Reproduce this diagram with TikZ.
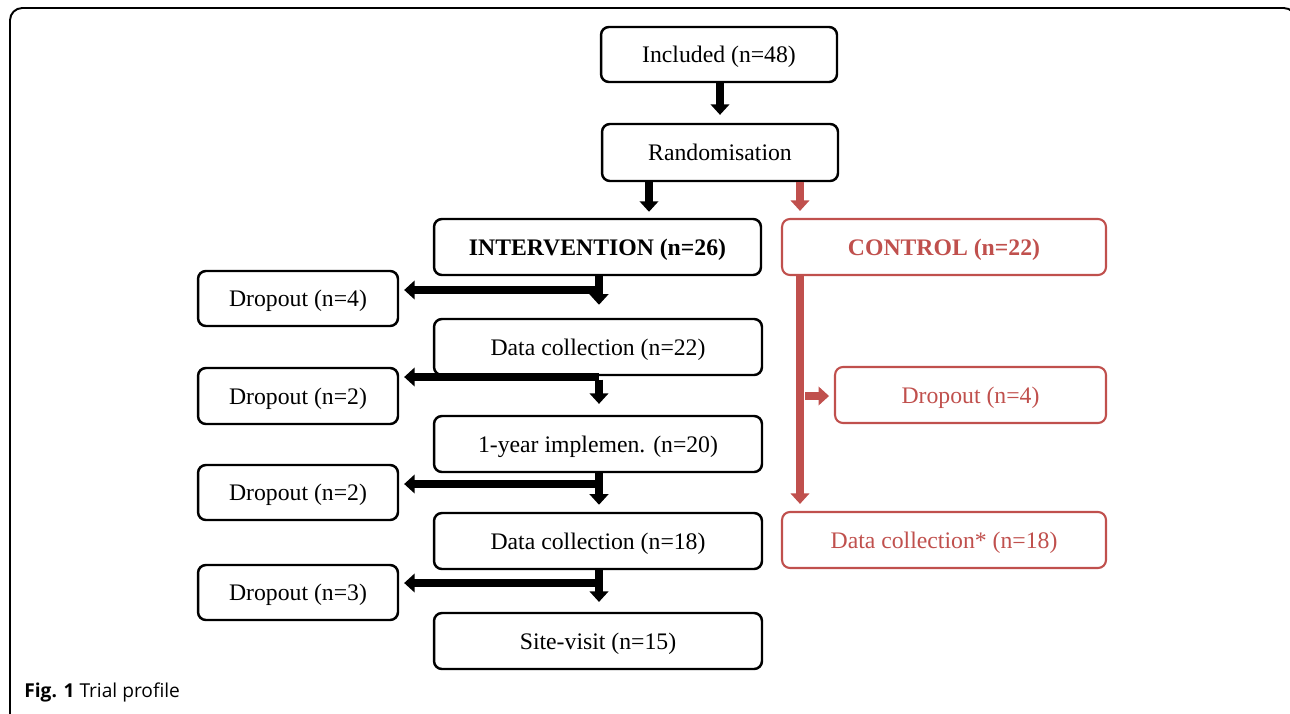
\documentclass[tikz,border=0pt]{standalone}
\usepackage{fontspec}
\setmainfont{Liberation Serif}
\newfontfamily\capfont{Open Sans}
\usetikzlibrary{arrows.meta}
\pgfdeclarelayer{bg}
\pgfsetlayers{bg,main}
\definecolor{ctlred}{RGB}{192,80,77}
\tikzset{
    box/.style={rectangle, draw, line width=1.4pt, rounded corners=4.5pt, align=center,
        font=\fontsize{13.5}{16}\selectfont, inner sep=0mm, text height=9.5pt, text depth=0pt},
    redbox/.style={box, draw=ctlred, text=ctlred, line width=1.2pt},
    blk/.style={line width=4.3pt, -{Triangle[width=10.5pt, length=6pt]}},
    rd/.style={blk, draw=ctlred, color=ctlred}
}
\begin{document}
\begin{tikzpicture}[x=0.02cm, y=-0.02cm]
    \useasboundingbox (0,0) rectangle (1290,713);
    \draw[line width=1.1pt, rounded corners=7pt] (10,720) -- (10,8) -- (1296,8) -- (1296,720);

    \node (inc) [box, minimum width=4.72cm, minimum height=1.1cm] at (719, 54.5) {Included (n=48)};
    \node (rand) [box, minimum width=4.72cm, minimum height=1.14cm] at (720, 152.5) {Randomisation};
    \node (int) [box, minimum width=6.54cm, minimum height=1.12cm] at (597.5, 247) {\textbf{INTERVENTION (n=26)}};
    \node (ctl) [redbox, minimum width=6.48cm, minimum height=1.12cm] at (944, 247) {\textbf{CONTROL (n=22)}};
    \node (d1) [box, minimum width=4cm, minimum height=1.1cm] at (298, 298.5) {Dropout (n=4)};
    \node (dc1) [box, minimum width=6.56cm, minimum height=1.12cm] at (598, 347) {Data collection (n=22)};
    \node (d2) [box, minimum width=4cm, minimum height=1.12cm] at (298, 396) {Dropout (n=2)};
    \node (imp) [box, minimum width=6.56cm, minimum height=1.12cm] at (598, 444) {1-year implemen. (n=20)};
    \node (d3) [box, minimum width=4cm, minimum height=1.1cm] at (298, 492.5) {Dropout (n=2)};
    \node (dc2) [box, minimum width=6.56cm, minimum height=1.12cm] at (598, 541) {Data collection (n=18)};
    \node (d4) [box, minimum width=4cm, minimum height=1.1cm] at (298, 592.5) {Dropout (n=3)};
    \node (site) [box, minimum width=6.56cm, minimum height=1.12cm] at (598, 641) {Site-visit (n=15)};
    \node (cd) [redbox, minimum width=5.42cm, minimum height=1.12cm] at (970.5, 395) {Dropout (n=4)};
    \node (cdc) [redbox, minimum width=6.48cm, minimum height=1.12cm] at (944, 540) {Data collection* (n=18)};

    \node (cap) [anchor=west, inner sep=0mm, font=\capfont\fontsize{10.9}{13}\selectfont] at (24, 692) {\textbf{Fig. 1} Trial profile};

    % split points
    \coordinate (s1) at (599, 290);
    \coordinate (s2) at (599, 377);
    \coordinate (s3) at (599, 484);
    \coordinate (s4) at (599, 583);
    \coordinate (r1) at (800, 396);

    \draw[blk, shorten >=4.5pt] (inc.south -| 720,0) -- (rand.north -| 720,0);
    \draw[blk, shorten >=3.4pt] (rand.south -| 649,0) -- (int.north -| 649,0);
    \draw[rd, shorten >=4pt] (rand.south -| r1) -- (ctl.north -| r1);

    \draw[blk, shorten >=7.4pt] (int.south -| s1) -- (dc1.north -| s1);
    \draw[blk, shorten >=2.8pt] (s1) -- (d1.east |- s1);
    \draw[blk, shorten >=6.2pt] ([yshift=-2pt]dc1.south -| s2) -- (imp.north -| s2);
    \draw[blk, shorten >=2.8pt] (s2) -- (d2.east |- s2);
    \draw[blk, shorten >=4pt] (imp.south -| s3) -- (dc2.north -| s3);
    \draw[blk, shorten >=2.8pt] (s3) -- (d3.east |- s3);
    \draw[blk, shorten >=5.6pt] (dc2.south -| s4) -- (site.north -| s4);
    \draw[blk, shorten >=2.8pt] (s4) -- (d4.east |- s4);

    \draw[rd, shorten >=4pt] (ctl.south -| r1) -- (cdc.north -| r1);
    \draw[rd, shorten >=2.8pt] ([xshift=3pt]r1) -- (cd.west |- r1);
\end{tikzpicture}
\end{document}
